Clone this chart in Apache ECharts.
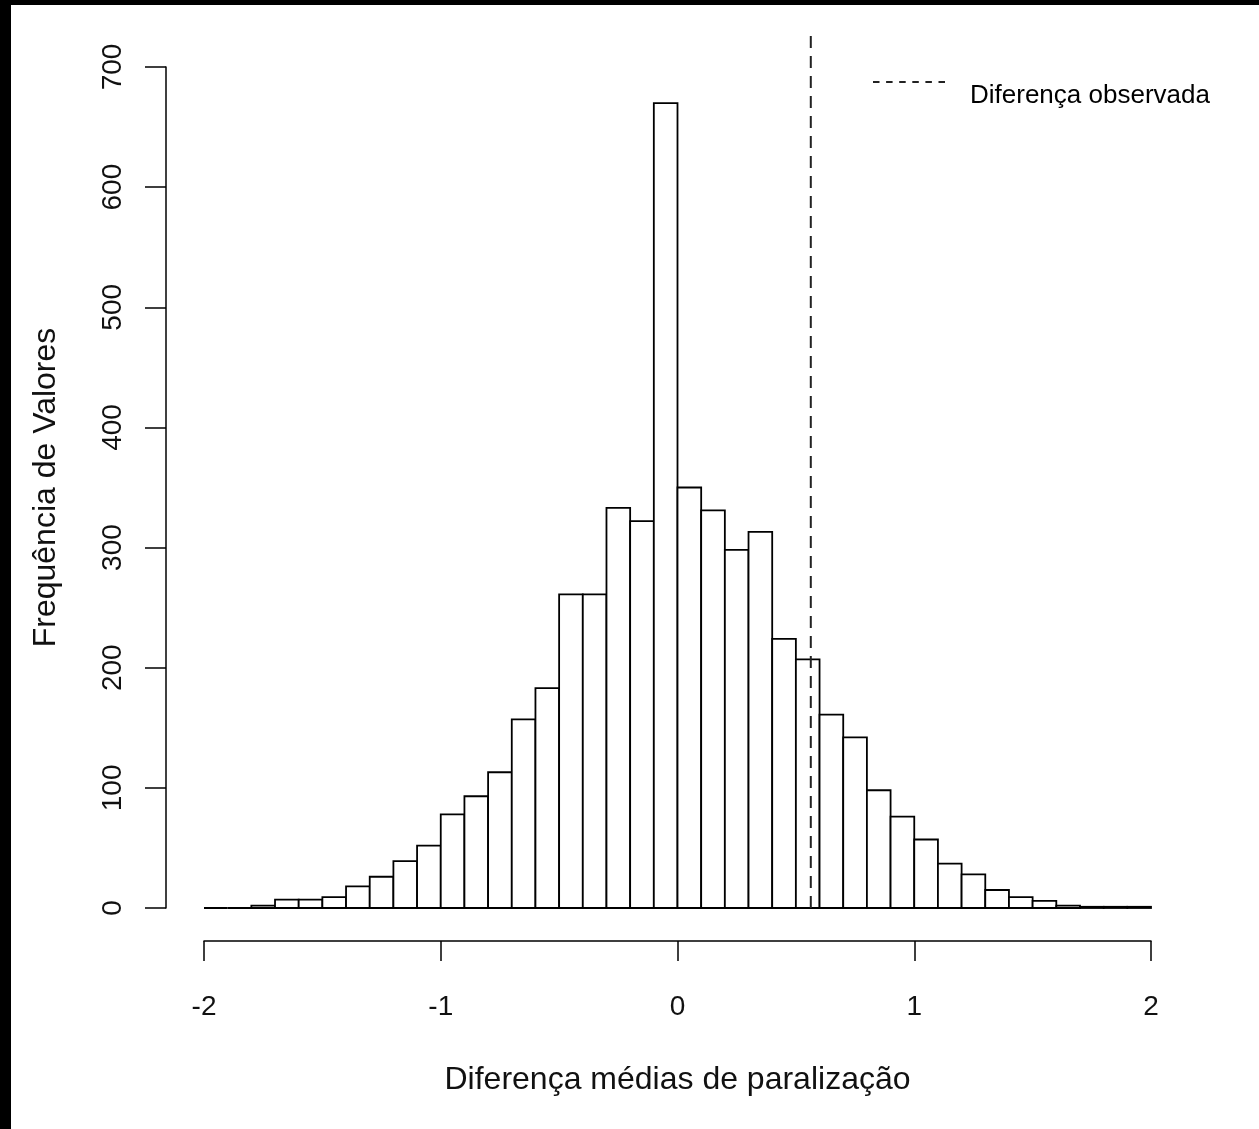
<!DOCTYPE html>
<html>
<head>
<meta charset="utf-8">
<script src="https://cdn.jsdelivr.net/npm/echarts@6/dist/echarts.min.js"></script>
<style>
  html, body { margin: 0; padding: 0; background: #fff; }
  #chart { width: 1259px; height: 1129px; }
</style>
</head>
<body>
<div id="chart"></div>
<script>
// bin edges (width 0.1) and counts
const binStart = [-2.0, -1.9, -1.8, -1.7, -1.6, -1.5, -1.4, -1.3, -1.2, -1.1,
  -1.0, -0.9, -0.8, -0.7, -0.6, -0.5, -0.4, -0.3, -0.2, -0.1,
  0.0, 0.1, 0.2, 0.3, 0.4, 0.5, 0.6, 0.7, 0.8, 0.9,
  1.0, 1.1, 1.2, 1.3, 1.4, 1.5, 1.6, 1.7, 1.8, 1.9];
const binEnd = [-1.9, -1.8, -1.7, -1.6, -1.5, -1.4, -1.3, -1.2, -1.1, -1.0,
  -0.9, -0.8, -0.7, -0.6, -0.5, -0.4, -0.3, -0.2, -0.1, 0.0,
  0.1, 0.2, 0.3, 0.4, 0.5, 0.6, 0.7, 0.8, 0.9, 1.0,
  1.1, 1.2, 1.3, 1.4, 1.5, 1.6, 1.7, 1.8, 1.9, 2.0];
const counts = [0, 0, 2, 7, 7, 9, 18, 26, 39, 52,
  78, 93, 113, 157, 183, 261, 261, 333, 322, 670,
  350, 331, 298, 313, 224, 207, 161, 142, 98, 76,
  57, 37, 28, 15, 9, 6, 2, 1, 1, 1];
const xTicks = [-2, -1, 0, 1, 2];
const yTicks = [0, 100, 200, 300, 400, 500, 600, 700];
const observed = 0.563; // diferença observada
const lineTop = 728;    // top of the plot region in R (700 + 4%)
const legendLabel = "Diferença observada";

const font = "'Liberation Sans', Arial, sans-serif";

const chart = echarts.init(document.getElementById("chart"));

const bars = binStart.map((s, i) => [s, binEnd[i], counts[i]]);

chart.setOption({
  backgroundColor: "#ffffff",
  animation: false,
  grid: { left: 204, right: 108, top: 67, bottom: 221, containLabel: false },
  xAxis: {
    type: "value",
    min: xTicks[0],
    max: xTicks[xTicks.length - 1],
    interval: 1,
    offset: 33,
    name: "Diferença médias de paralização",
    nameLocation: "middle",
    nameGap: 123,
    nameTextStyle: { fontFamily: font, fontSize: 32, color: "#111" },
    axisLine: { show: true, onZero: false, lineStyle: { color: "#000", width: 1.5 } },
    axisTick: { show: true, length: 20, lineStyle: { color: "#000", width: 1.5 } },
    axisLabel: { fontFamily: font, fontSize: 28, color: "#111", margin: 52 },
    splitLine: { show: false },
  },
  yAxis: {
    type: "value",
    min: yTicks[0],
    max: yTicks[yTicks.length - 1],
    interval: 100,
    offset: 38,
    name: "Frequência de Valores",
    nameLocation: "middle",
    nameGap: 104,
    nameTextStyle: { fontFamily: font, fontSize: 32, color: "#111" },
    axisLine: { show: true, onZero: false, lineStyle: { color: "#000", width: 1.5 } },
    axisTick: { show: true, length: 21, lineStyle: { color: "#000", width: 1.5 } },
    axisLabel: { fontFamily: font, fontSize: 28, color: "#111", rotate: 90, margin: 39 },
    splitLine: { show: false },
  },
  series: [
    {
      name: "Frequência",
      type: "custom",
      data: bars,
      encode: { x: [0, 1], y: 2 },
      renderItem: function (params, api) {
        const p0 = api.coord([api.value(0), api.value(2)]);
        const p1 = api.coord([api.value(1), 0]);
        return {
          type: "rect",
          shape: { x: p0[0], y: p0[1], width: p1[0] - p0[0], height: p1[1] - p0[1] },
          style: { fill: "#fff", stroke: "#000", lineWidth: 1.8 },
        };
      },
      z: 2,
    },
    {
      name: legendLabel,
      type: "line",
      data: [[observed, 0], [observed, lineTop]],
      symbol: "none",
      clip: false,
      lineStyle: { type: [12, 8], width: 2, color: "#222" },
      z: 5,
    },
  ],
  graphic: [
    // black strips at the top and left edge of the original image
    { type: "rect", left: 0, top: 0, shape: { width: 1259, height: 5 }, style: { fill: "#000" } },
    { type: "rect", left: 0, top: 0, shape: { width: 11, height: 1129 }, style: { fill: "#000" } },
    // legend, as R draws it: dashed sample above-left of the label
    {
      type: "line",
      shape: { x1: 873, y1: 82, x2: 945, y2: 82 },
      style: { stroke: "#222", lineWidth: 2, lineDash: [6.5, 6.6] },
    },
    {
      type: "text",
      x: 970,
      y: 96,
      style: {
        text: legendLabel,
        fontFamily: font,
        fontSize: 26,
        fill: "#000",
        verticalAlign: "middle",
        align: "left",
      },
    },
  ],
});
</script>
</body>
</html>
